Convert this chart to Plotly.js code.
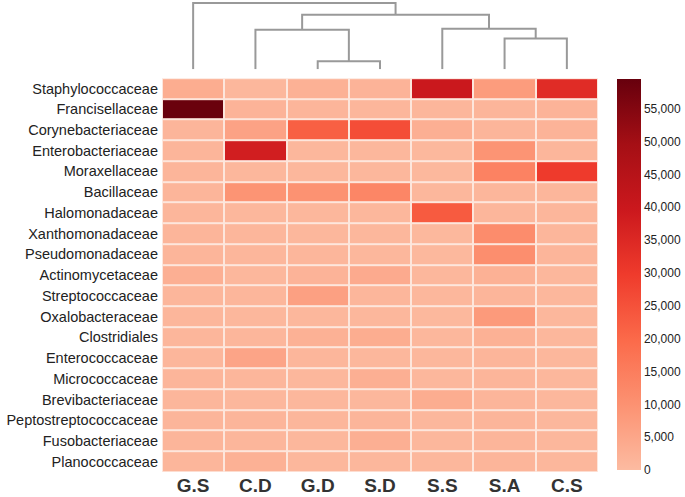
<!DOCTYPE html>
<html>
<head>
<meta charset="utf-8">
<script src="https://cdn.plot.ly/plotly-3.0.1.min.js"></script>
<style>
  html, body { margin: 0; padding: 0; background: #fff; }
  #graph { width: 685px; height: 497px; }
</style>
</head>
<body>
<div id="graph"></div>
<script>
// samples (column order as clustered)
var samples = ['G.S', 'C.D', 'G.D', 'S.D', 'S.S', 'S.A', 'C.S'];

var families = ['Staphylococcaceae', 'Francisellaceae', 'Corynebacteriaceae', 'Enterobacteriaceae',
  'Moraxellaceae', 'Bacillaceae', 'Halomonadaceae', 'Xanthomonadaceae', 'Pseudomonadaceae',
  'Actinomycetaceae', 'Streptococcaceae', 'Oxalobacteraceae', 'Clostridiales', 'Enterococcaceae',
  'Micrococcaceae', 'Brevibacteriaceae', 'Peptostreptococcaceae', 'Fusobacteriaceae', 'Planococcaceae'];

// read counts per sample, same order as families
var gs = [3500, 59000, 1500, 1500, 1500, 1500, 1200, 1500, 1500, 3000, 1200, 1200, 1200, 1200, 1500, 1200, 1500, 1500, 1200];
var cd = [1000, 2000, 6000, 38000, 1000, 9500, 1000, 1200, 1200, 1000, 1200, 1000, 1200, 5500, 1200, 1000, 1500, 1200, 2500];
var gd = [2500, 1500, 22000, 1000, 1000, 10000, 1000, 1000, 1200, 2000, 6500, 1000, 2500, 1200, 1000, 1000, 1200, 1000, 1000];
var sd = [2000, 1200, 26000, 1000, 1000, 13000, 1000, 1000, 1000, 4000, 1200, 1000, 3500, 1000, 3000, 1000, 1500, 3000, 1000];
var ss = [40000, 1200, 3000, 800, 800, 1000, 23000, 800, 800, 1000, 1000, 800, 1000, 1000, 1000, 3500, 1000, 1000, 1000];
var sa = [7500, 1500, 1500, 9500, 14000, 1200, 1200, 11500, 11000, 2500, 1500, 8000, 2500, 1500, 1500, 1500, 1500, 1500, 1500];
var cs = [34000, 2000, 2000, 1200, 30000, 1200, 1200, 1200, 1500, 1000, 1000, 1000, 1000, 1000, 1000, 1000, 1000, 1000, 1000];

// dendrogram merges: [left node, right node, height]; leaves 0..6, new nodes 7..
var merges = [
  [2, 3, 8],    // 7: G.D + S.D
  [5, 6, 31],   // 8: S.A + C.S
  [1, 7, 40],   // 9: C.D + node7
  [4, 8, 41],   // 10: S.S + node8
  [9, 10, 55],  // 11
  [0, 11, 67]   // 12: root
];

var cols = [gs, cd, gd, sd, ss, sa, cs];
var z = families.map(function (f, i) {
  return cols.map(function (c) { return c[i]; });
});

var reds = [
  [0, '#fcbba1'], [1 / 6, '#fc9272'], [2 / 6, '#fb6a4a'], [3 / 6, '#ef3b2c'],
  [4 / 6, '#cb181d'], [5 / 6, '#a50f15'], [1, '#67000d']
];

var heat = {
  type: 'heatmap',
  x: samples,
  y: families,
  z: z,
  zmin: 0,
  zmax: 59500,
  colorscale: reds,
  xgap: 2,
  ygap: 2,
  colorbar: {
    x: 1.0436, xanchor: 'left', xpad: 0,
    y: 0.42, yanchor: 'middle', ypad: 0,
    lenmode: 'pixels', len: 391,
    thickness: 24,
    outlinewidth: 0,
    ticks: '',
    tick0: 0, dtick: 5000,
    tickformat: ',',
    tickfont: {family: 'Liberation Sans, Arial, sans-serif', size: 12, color: '#222'}
  }
};

// build dendrogram segments from merges
var nodeX = samples.map(function (s, i) { return i; });
var nodeH = samples.map(function () { return 0; });
var dx = [], dy = [];
merges.forEach(function (m) {
  var a = m[0], b = m[1], h = m[2];
  dx.push(nodeX[a], nodeX[a], nodeX[b], nodeX[b], null);
  dy.push(nodeH[a], h, h, nodeH[b], null);
  nodeX.push((nodeX[a] + nodeX[b]) / 2);
  nodeH.push(h);
});

var dendro = {
  type: 'scatter',
  mode: 'lines',
  x: dx,
  y: dy,
  xaxis: 'x2',
  yaxis: 'y2',
  line: {color: '#999', width: 2},
  hoverinfo: 'skip',
  showlegend: false
};

var layout = {
  width: 685,
  height: 497,
  margin: {l: 162, r: 87, t: 2, b: 25, autoexpand: false},
  paper_bgcolor: '#fff',
  plot_bgcolor: '#fff',
  // pale backing so the cell gaps look like the reference grid
  shapes: [{
    type: 'rect', layer: 'below',
    xref: 'x domain', yref: 'y domain',
    x0: 0, x1: 1, y0: 0, y1: 1,
    fillcolor: '#fde6dc', line: {width: 0}
  }],
  xaxis: {
    domain: [0, 1],
    anchor: 'y',
    ticks: '',
    showgrid: false,
    zeroline: false,
    automargin: false,
    tickfont: {family: 'Liberation Sans, Arial, sans-serif', size: 19, color: '#333', weight: 'bold'},
    ticklabelstandoff: 0
  },
  yaxis: {
    domain: [0, 0.838],
    autorange: 'reversed',
    ticks: '',
    showgrid: false,
    zeroline: false,
    automargin: false,
    tickfont: {family: 'Liberation Sans, Arial, sans-serif', size: 14.5, color: '#222'},
    ticklabelstandoff: 3
  },
  xaxis2: {
    domain: [0, 1],
    anchor: 'y2',
    range: [-0.5, 6.5],
    visible: false
  },
  yaxis2: {
    domain: [0.857, 1],
    anchor: 'x2',
    range: [0, 68],
    visible: false
  }
};

Plotly.newPlot('graph', [heat, dendro], layout, {displayModeBar: false});
</script>
</body>
</html>
